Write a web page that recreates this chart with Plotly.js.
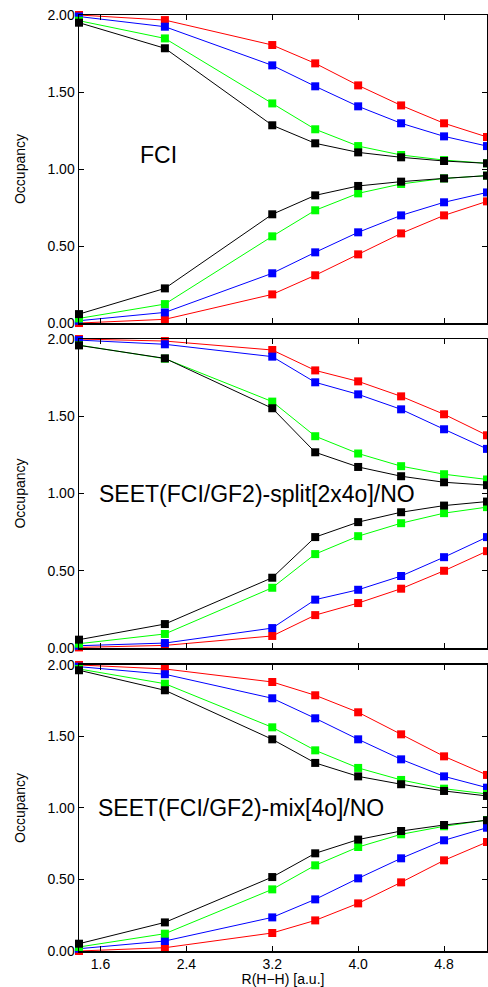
<!DOCTYPE html>
<html>
<head>
<meta charset="utf-8">
<script src="https://cdn.plot.ly/plotly-3.0.1.min.js"></script>
<style>html,body{margin:0;padding:0;background:#fff;}#chart{width:488px;height:987px;}</style>
</head>
<body>
<div id="chart"></div>
<script>
// Bond length R(H-H) [a.u.]
const R = [1.4, 2.2, 3.2, 3.6, 4.0, 4.4, 4.8, 5.2];

// Panel 1: FCI
const fciRedHi   = [2.00, 1.967, 1.805, 1.686, 1.543, 1.413, 1.297, 1.208];
const fciBlueHi  = [1.99, 1.924, 1.673, 1.537, 1.407, 1.297, 1.212, 1.149];
const fciGreenHi = [1.963, 1.848, 1.426, 1.258, 1.149, 1.091, 1.058, 1.037];
const fciBlackHi = [1.950, 1.784, 1.284, 1.167, 1.108, 1.076, 1.052, 1.037];
const fciBlackLo = [0.058, 0.225, 0.706, 0.829, 0.890, 0.918, 0.939, 0.957];
const fciGreenLo = [0.030, 0.123, 0.563, 0.732, 0.842, 0.903, 0.939, 0.957];
const fciBlueLo  = [0.015, 0.069, 0.323, 0.459, 0.589, 0.699, 0.784, 0.848];
const fciRedLo   = [0.000, 0.024, 0.186, 0.310, 0.446, 0.582, 0.699, 0.790];

// Panel 2: SEET(FCI/GF2)-split[2x4o]/NO
const splitRedHi   = [2.00, 1.987, 1.929, 1.797, 1.726, 1.629, 1.513, 1.377];
const splitBlueHi  = [1.993, 1.966, 1.886, 1.720, 1.642, 1.545, 1.416, 1.289];
const splitGreenHi = [1.961, 1.873, 1.595, 1.371, 1.259, 1.177, 1.125, 1.091];
const splitBlackHi = [1.959, 1.875, 1.552, 1.267, 1.172, 1.112, 1.073, 1.054];
const splitBlackLo = [0.054, 0.155, 0.455, 0.718, 0.815, 0.879, 0.922, 0.948];
const splitGreenLo = [0.028, 0.091, 0.390, 0.608, 0.724, 0.808, 0.873, 0.912];
const splitBlueLo  = [0.015, 0.032, 0.129, 0.313, 0.377, 0.466, 0.588, 0.718];
const splitRedLo   = [0.004, 0.017, 0.078, 0.213, 0.291, 0.384, 0.500, 0.627];

// Panel 3: SEET(FCI/GF2)-mix[4o]/NO
const mixRedHi   = [2.00, 1.972, 1.881, 1.788, 1.669, 1.515, 1.361, 1.231];
const mixBlueHi  = [1.988, 1.935, 1.767, 1.627, 1.480, 1.340, 1.221, 1.142];
const mixGreenHi = [1.972, 1.869, 1.564, 1.403, 1.280, 1.196, 1.135, 1.098];
const mixBlackHi = [1.963, 1.823, 1.480, 1.315, 1.221, 1.166, 1.119, 1.084];
const mixBlackLo = [0.051, 0.200, 0.517, 0.683, 0.779, 0.839, 0.881, 0.914];
const mixGreenLo = [0.028, 0.121, 0.431, 0.599, 0.727, 0.816, 0.872, 0.916];
const mixBlueLo  = [0.016, 0.070, 0.235, 0.361, 0.508, 0.648, 0.774, 0.862];
const mixRedLo   = [0.000, 0.023, 0.126, 0.214, 0.333, 0.480, 0.634, 0.762];

const panelLabels = ["FCI", "SEET(FCI/GF2)-split[2x4o]/NO", "SEET(FCI/GF2)-mix[4o]/NO"];
const yTickVals = [0, 0.5, 1.0, 1.5, 2.0];
const xTickVals = [1.6, 2.4, 3.2, 4.0, 4.8];

const colors = {red: "#ff0000", blue: "#0000ff", green: "#00ff00", black: "#000000"};

const panels = [
  {xa: "x", ya: "y", sets: [[fciRedHi,"red"],[fciRedLo,"red"],[fciBlueHi,"blue"],[fciBlueLo,"blue"],[fciGreenHi,"green"],[fciGreenLo,"green"],[fciBlackHi,"black"],[fciBlackLo,"black"]]},
  {xa: "x2", ya: "y2", sets: [[splitRedHi,"red"],[splitRedLo,"red"],[splitBlueHi,"blue"],[splitBlueLo,"blue"],[splitGreenHi,"green"],[splitGreenLo,"green"],[splitBlackHi,"black"],[splitBlackLo,"black"]]},
  {xa: "x3", ya: "y3", sets: [[mixRedHi,"red"],[mixRedLo,"red"],[mixBlueHi,"blue"],[mixBlueLo,"blue"],[mixGreenHi,"green"],[mixGreenLo,"green"],[mixBlackHi,"black"],[mixBlackLo,"black"]]}
];

const traces = [];
panels.forEach(p => {
  p.sets.forEach(([vals, c]) => {
    traces.push({
      x: R, y: vals, xaxis: p.xa, yaxis: p.ya,
      type: "scatter", mode: "lines+markers",
      line: {color: colors[c], width: 1},
      marker: {symbol: "square", size: 8, color: colors[c]},
      cliponaxis: false, showlegend: false, hoverinfo: "skip"
    });
  });
});

const font = {family: "Liberation Sans, Arial, Helvetica, sans-serif", color: "#000"};

function xAxis(anchor, showLabels) {
  return {
    anchor: anchor, range: [1.4, 5.2], tickvals: xTickVals,
    ticktext: xTickVals.map(v => v.toFixed(1)),
    showticklabels: showLabels, ticks: "inside", ticklen: 5, tickwidth: 1, tickcolor: "#000",
    showline: true, mirror: "ticks", linecolor: "#000", linewidth: 1.5,
    showgrid: false, zeroline: false,
    tickfont: Object.assign({size: 14}, font)
  };
}
function yAxis(anchor, domain) {
  return {
    anchor: anchor, domain: domain, range: [0, 2], tickvals: yTickVals,
    ticktext: yTickVals.map(v => v.toFixed(2)),
    ticks: "inside", ticklen: 5, tickwidth: 1, tickcolor: "#000",
    showline: true, mirror: "ticks", linecolor: "#000", linewidth: 1.5,
    showgrid: false, zeroline: false,
    tickfont: Object.assign({size: 14}, font),
    title: {text: "Occupancy", font: Object.assign({size: 14}, font), standoff: 18}
  };
}

const layout = {
  width: 488, height: 987,
  margin: {l: 79, r: 1, t: 15, b: 36},
  paper_bgcolor: "#fff", plot_bgcolor: "#fff",
  font: font,
  xaxis: xAxis("y", false),
  xaxis2: Object.assign(xAxis("y2", false), {matches: "x"}),
  xaxis3: Object.assign(xAxis("y3", true), {matches: "x",
    title: {text: "R(H\u2212H) [a.u.]", font: Object.assign({size: 14}, font), standoff: 5}}),
  yaxis: yAxis("x", [0.6709, 1]),
  yaxis2: yAxis("x2", [0.3237, 0.6538]),
  yaxis3: yAxis("x3", [0, 0.3056]),
  annotations: [
    {text: panelLabels[0], xref: "x", yref: "y", x: 2.14, y: 1.09, showarrow: false, xanchor: "center", yanchor: "middle", font: Object.assign({size: 23}, font)},
    {text: panelLabels[1], xref: "x2", yref: "y2", x: 3.06, y: 1.0, showarrow: false, xanchor: "center", yanchor: "middle", font: Object.assign({size: 23}, font)},
    {text: panelLabels[2], xref: "x3", yref: "y3", x: 2.91, y: 1.0, showarrow: false, xanchor: "center", yanchor: "middle", font: Object.assign({size: 23}, font)}
  ]
};

Plotly.newPlot("chart", traces, layout, {staticPlot: true, displayModeBar: false});
</script>
</body>
</html>
